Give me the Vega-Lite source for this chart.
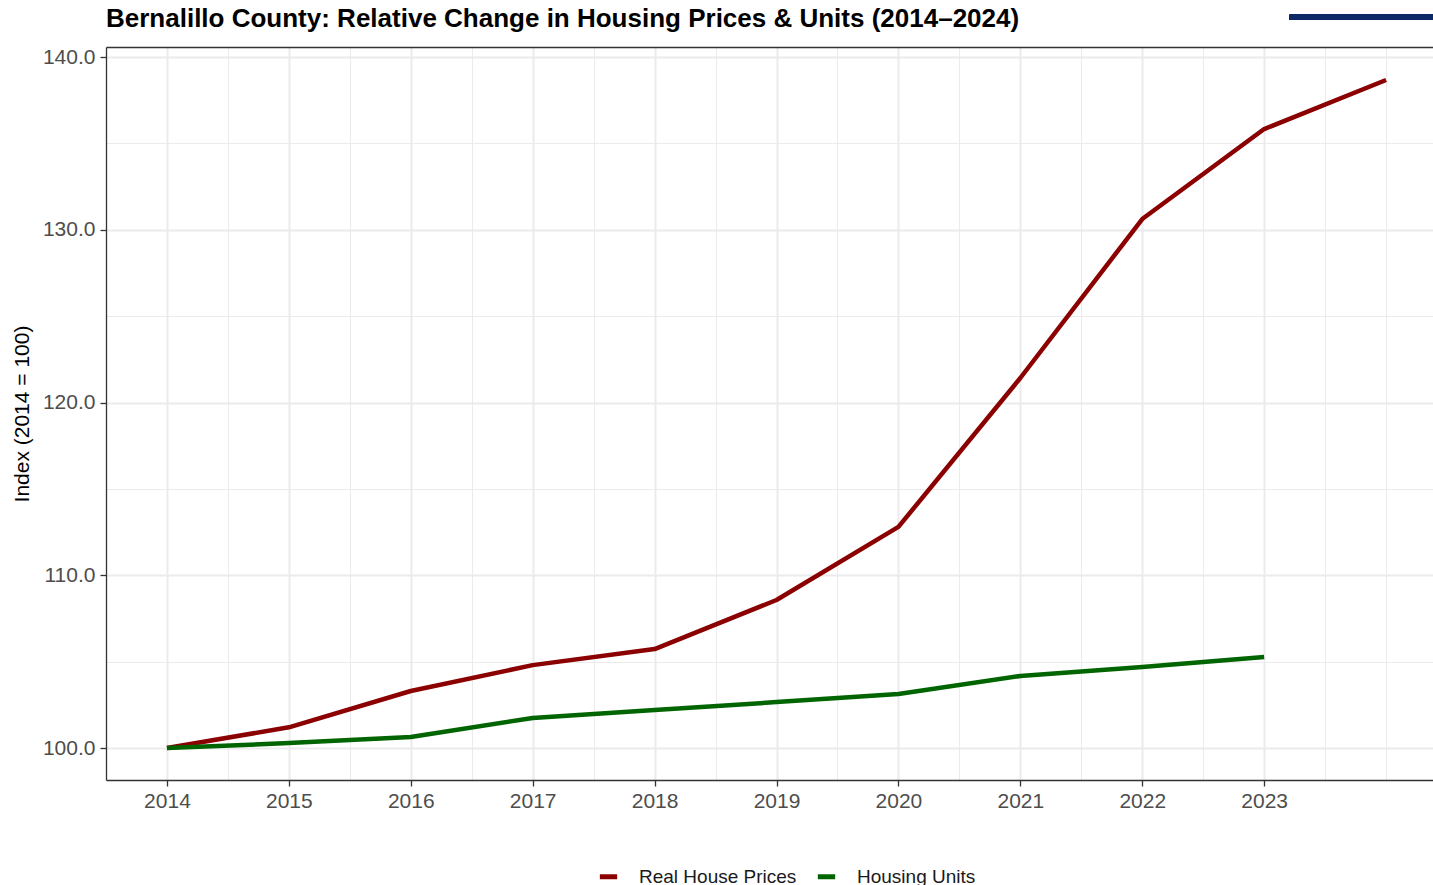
{
  "$schema": "https://vega.github.io/schema/vega-lite/v6.json",
  "width": 1327,
  "height": 733,
  "autosize": "none",
  "padding": {"left": 106, "top": 47, "right": 0, "bottom": 105},
  "background": "white",
  "title": {
    "text": "Bernalillo County: Relative Change in Housing Prices & Units (2014–2024)",
    "anchor": "start",
    "frame": "group",
    "font": "Liberation Sans",
    "fontSize": 26,
    "fontWeight": "bold",
    "color": "black",
    "baseline": "alphabetic",
    "offset": -38
  },
  "data": {
    "values": [
      {"year": 2014, "series": "Real House Prices", "value": 100.0},
      {"year": 2015, "series": "Real House Prices", "value": 101.2},
      {"year": 2016, "series": "Real House Prices", "value": 103.3},
      {"year": 2017, "series": "Real House Prices", "value": 104.8},
      {"year": 2018, "series": "Real House Prices", "value": 105.73},
      {"year": 2019, "series": "Real House Prices", "value": 108.57},
      {"year": 2020, "series": "Real House Prices", "value": 112.8},
      {"year": 2021, "series": "Real House Prices", "value": 121.42},
      {"year": 2022, "series": "Real House Prices", "value": 130.62},
      {"year": 2023, "series": "Real House Prices", "value": 135.83},
      {"year": 2024, "series": "Real House Prices", "value": 138.67},
      {"year": 2014, "series": "Housing Units", "value": 100.0},
      {"year": 2015, "series": "Housing Units", "value": 100.29},
      {"year": 2016, "series": "Housing Units", "value": 100.64},
      {"year": 2017, "series": "Housing Units", "value": 101.74},
      {"year": 2018, "series": "Housing Units", "value": 102.2},
      {"year": 2019, "series": "Housing Units", "value": 102.66},
      {"year": 2020, "series": "Housing Units", "value": 103.13},
      {"year": 2021, "series": "Housing Units", "value": 104.17},
      {"year": 2022, "series": "Housing Units", "value": 104.69},
      {"year": 2023, "series": "Housing Units", "value": 105.27}
    ]
  },
  "layer": [
    {
      "transform": [{"filter": "datum.series === 'Real House Prices'"}],
      "mark": {"type": "line", "strokeWidth": 4.5, "strokeJoin": "round", "clip": true},
      "encoding": {
        "x": {
          "field": "year", "type": "quantitative",
          "scale": {"domain": [2013.5, 2024.385], "nice": false, "zero": false},
          "axis": {
            "orient": "bottom", "title": null,
            "values": [2014, 2015, 2016, 2017, 2018, 2019, 2020, 2021, 2022, 2023],
            "format": "d",
            "grid": true, "gridColor": "#EBEBEB", "gridWidth": 2,
            "domain": true, "domainColor": "#333333", "domainWidth": 1.3,
            "ticks": true, "tickColor": "#333333", "tickWidth": 1.3, "tickSize": 6,
            "labelFont": "Liberation Sans", "labelFontSize": 21, "labelColor": "#4D4D4D",
            "labelPadding": 4, "labelFlush": false, "labelOverlap": false
          }
        },
        "y": {
          "field": "value", "type": "quantitative",
          "scale": {"domain": [98.15, 140.58], "nice": false, "zero": false},
          "axis": {
            "orient": "left",
            "title": "Index (2014 = 100)",
            "titleFont": "Liberation Sans", "titleFontSize": 21, "titleFontWeight": "normal",
            "titleColor": "black", "titlePadding": 10,
            "values": [100, 110, 120, 130, 140],
            "format": ".1f",
            "grid": true, "gridColor": "#EBEBEB", "gridWidth": 2,
            "domain": true, "domainColor": "#333333", "domainWidth": 1.3,
            "ticks": true, "tickColor": "#333333", "tickWidth": 1.3, "tickSize": 6,
            "labelFont": "Liberation Sans", "labelFontSize": 21, "labelColor": "#4D4D4D",
            "labelPadding": 5, "labelFlush": false, "labelOverlap": false
          }
        },
        "color": {
          "field": "series", "type": "nominal",
          "scale": {"domain": ["Real House Prices", "Housing Units"], "range": ["#8B0000", "#006400"]},
          "legend": {
            "title": null,
            "orient": "none",
            "direction": "horizontal",
            "columns": 2,
            "legendX": 491,
            "legendY": 818,
            "padding": 0,
            "symbolType": "stroke",
            "symbolSize": 300,
            "symbolStrokeWidth": 5,
            "labelFont": "Liberation Sans",
            "labelFontSize": 19,
            "labelColor": "#1A1A1A",
            "labelOffset": 19,
            "columnPadding": 10
          }
        }
      }
    },
    {
      "transform": [{"filter": "datum.series === 'Housing Units'"}],
      "mark": {"type": "line", "strokeWidth": 4.5, "strokeJoin": "round", "clip": true},
      "encoding": {
        "x": {
          "field": "year", "type": "quantitative",
          "axis": {
            "orient": "top", "title": null,
            "values": [2014.5, 2015.5, 2016.5, 2017.5, 2018.5, 2019.5, 2020.5, 2021.5, 2022.5, 2023.5, 2024],
            "grid": true, "gridColor": "#EBEBEB", "gridWidth": 1,
            "domain": true, "domainColor": "#333333", "domainWidth": 1.3,
            "ticks": false, "labels": false
          }
        },
        "y": {
          "field": "value", "type": "quantitative",
          "axis": {
            "orient": "right", "title": null,
            "values": [105, 115, 125, 135],
            "grid": true, "gridColor": "#EBEBEB", "gridWidth": 1,
            "domain": false, "ticks": false, "labels": false
          }
        },
        "color": {"field": "series", "type": "nominal"}
      }
    },
    {
      "mark": {"type": "rule", "color": "#0B2A66", "strokeWidth": 5, "clip": false},
      "encoding": {
        "x": {"datum": 2023.21, "type": "quantitative", "axis": null},
        "x2": {"datum": 2024.6},
        "y": {"datum": 142.3, "type": "quantitative", "axis": null}
      }
    }
  ],
  "resolve": {"axis": {"x": "independent", "y": "independent"}},
  "config": {
    "view": {"stroke": null},
    "font": "Liberation Sans"
  }
}
